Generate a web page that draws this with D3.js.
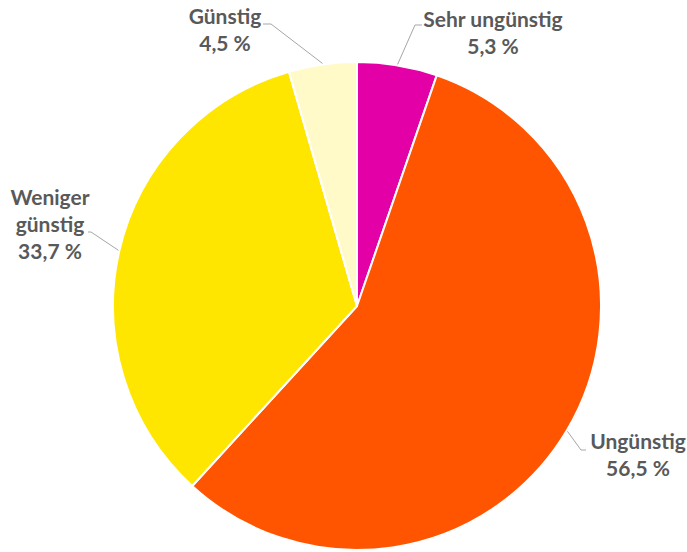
<!DOCTYPE html>
<html>
<head>
<meta charset="utf-8">
<script src="https://cdn.jsdelivr.net/npm/d3@7/dist/d3.min.js"></script>
<style>
  html, body { margin: 0; padding: 0; background: #ffffff; }
  svg { display: block; }
  .lbl { font-family: Lato, "Open Sans", sans-serif; font-weight: 700; fill: #595959; }
</style>
</head>
<body>
<svg id="chart" width="687" height="552"></svg>
<script>
// Slice data, clockwise from 12 o'clock
const categories = ["Sehr ungünstig", "Ungünstig", "Weniger günstig", "Günstig"];
const shares = [5.3, 56.5, 33.7, 4.5];
const colors = ["#E300A6", "#FF5500", "#FFE600", "#FFFAC8"];
// Label lines as shown (category name may wrap)
const labelLines = [["Sehr ungünstig"], ["Ungünstig"], ["Weniger", "günstig"], ["Günstig"]];

const width = 687, height = 552;
const cx = 357, cy = 306, radius = 244;

// Label placement: text centre x, first baseline y, elbow point of the leader line
const labelLayout = [
  { x: 493, y: 27, anchorX: 422, anchorY: 25, elbowX: 415 },
  { x: 638, y: 449, anchorX: 586, anchorY: 450, elbowX: 581 },
  { x: 50, y: 205, anchorX: 88, anchorY: 232, elbowX: 91 },
  { x: 225, y: 24, anchorX: 263, anchorY: 24, elbowX: 271 }
];
const lineHeight = 27;

const svg = d3.select("#chart");
const g = svg.append("g").attr("transform", `translate(${cx},${cy})`);

const pie = d3.pie().sort(null).value(d => d)
  .startAngle(0).endAngle(2 * Math.PI);
const arcs = pie(shares);
const arc = d3.arc().innerRadius(0).outerRadius(radius);

g.selectAll("path.slice")
  .data(arcs)
  .join("path")
  .attr("class", "slice")
  .attr("d", arc)
  .attr("fill", (d, i) => colors[i])
  .attr("stroke", "#ffffff")
  .attr("stroke-width", 2)
  .attr("stroke-linejoin", "round");

// Leader lines from the slice edge to each label
const fmt = v => d3.format(".1f")(v).replace(".", ",") + " %";
arcs.forEach((d, i) => {
  const mid = (d.startAngle + d.endAngle) / 2;
  const px = cx + (radius + 1) * Math.sin(mid);
  const py = cy - (radius + 1) * Math.cos(mid);
  const L = labelLayout[i];
  svg.append("polyline")
    .attr("points", `${px},${py} ${L.elbowX},${L.anchorY} ${L.anchorX},${L.anchorY}`)
    .attr("fill", "none")
    .attr("stroke", "#A6A6A6")
    .attr("stroke-width", 1);

  const t = svg.append("text")
    .attr("class", "lbl")
    .attr("text-anchor", "middle")
    .attr("font-size", 21);
  const lines = labelLines[i].concat([fmt(shares[i])]);
  lines.forEach((s, k) => {
    t.append("tspan").attr("x", L.x).attr("y", L.y + k * lineHeight).text(s);
  });
});
</script>
</body>
</html>
